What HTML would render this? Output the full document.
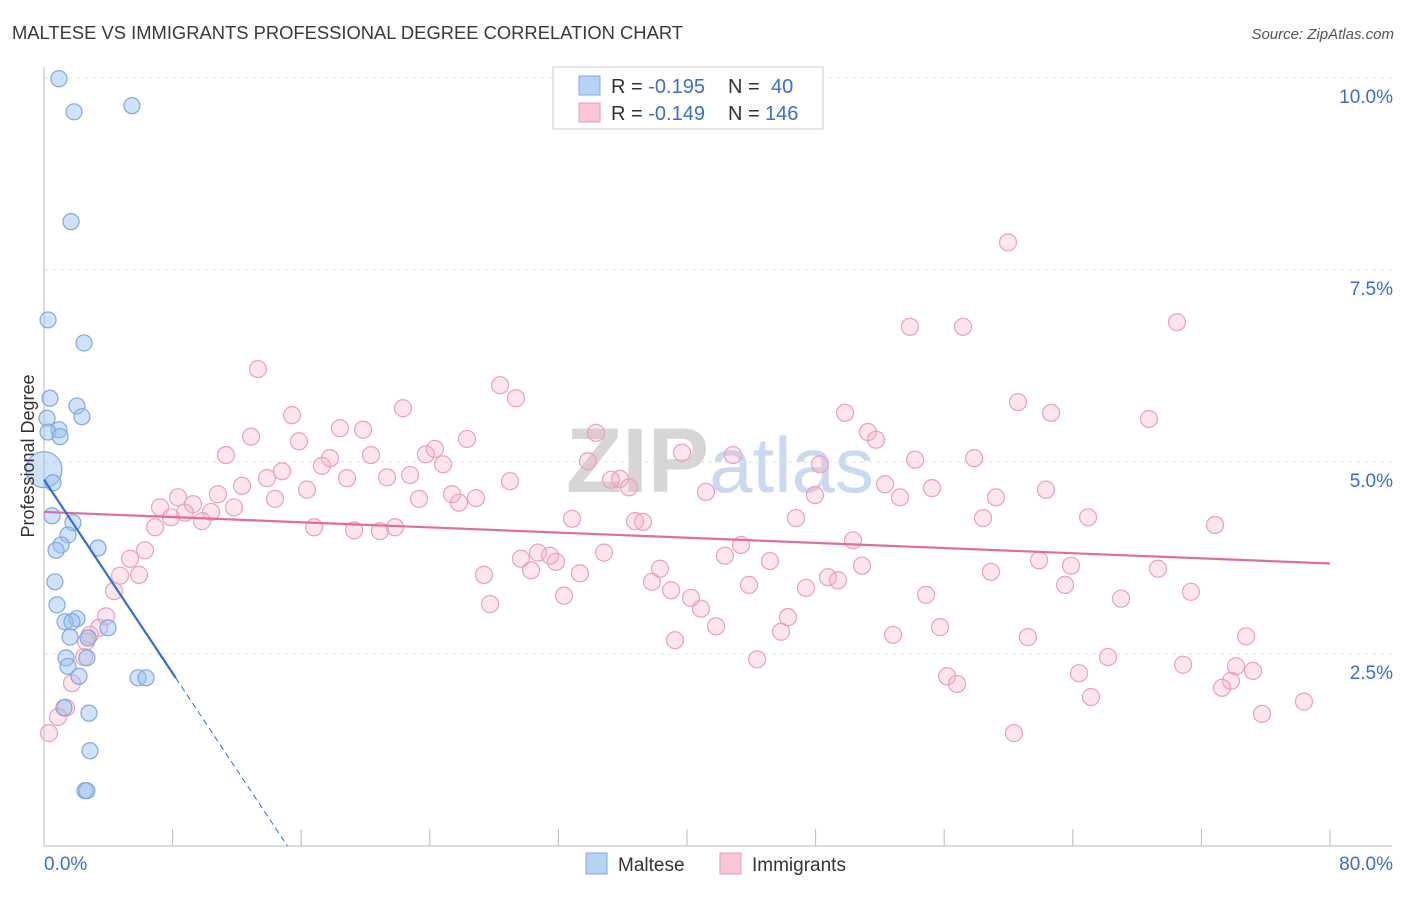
<!DOCTYPE html>
<html><head><meta charset="utf-8"><style>
body{margin:0;background:#fff;font-family:"Liberation Sans",sans-serif;}
svg text{font-family:"Liberation Sans",sans-serif;}
</style></head><body>
<svg id="c" width="1406" height="892" viewBox="0 0 1406 892">
<text x="12" y="39" font-size="18" fill="#3a3a3a" textLength="671" lengthAdjust="spacingAndGlyphs">MALTESE VS IMMIGRANTS PROFESSIONAL DEGREE CORRELATION CHART</text>
<text x="1394" y="39" font-size="15" fill="#555" font-style="italic" text-anchor="end">Source: ZipAtlas.com</text>
<text x="720" y="492" font-size="92" fill="#d6d6d6" text-anchor="middle" font-weight="bold" font-family="Liberation Serif">ZIP<tspan fill="#c9daf0" font-weight="normal" font-family="Liberation Sans" font-size="78">atlas</tspan></text>
<g id="grid"></g><g id="axes"></g><g id="pts"></g><g id="lines"></g>
<text x="34" y="456" font-size="18" fill="#333" text-anchor="middle" transform="rotate(-90 34 456)">Professional Degree</text>
<g>
<rect x="553" y="67" width="270" height="62" fill="#fff" stroke="#ccc"/>
<rect x="579" y="76" width="21" height="19" fill="#b8d2f4" stroke="#7fa8e0"/>
<rect x="579" y="103" width="21" height="19" fill="#f9c6d6" stroke="#e89ab5"/>
<text x="611" y="93" font-size="20" fill="#333">R = <tspan fill="#3a6fd0">-0.195</tspan></text>
<text x="728" y="93" font-size="20" fill="#333">N = </text>
<text x="771" y="93" font-size="20" fill="#3a6fd0">40</text>
<text x="611" y="120" font-size="20" fill="#333">R = <tspan fill="#3a6fd0">-0.149</tspan></text>
<text x="728" y="120" font-size="20" fill="#333">N = </text>
<text x="765" y="120" font-size="20" fill="#3a6fd0">146</text>
</g>
<g>
<rect x="586" y="853" width="21" height="21" fill="#b8d2f4" stroke="#7fa8e0"/>
<text x="618" y="871" font-size="19" fill="#333">Maltese</text>
<rect x="720" y="853" width="21" height="21" fill="#f9c6d6" stroke="#e89ab5"/>
<text x="752" y="871" font-size="19" fill="#333">Immigrants</text>
</g>
</svg>
<script>
const yTicks=[2.5,5,7.5,10];
const yTickLabels=["2.5%","5.0%","7.5%","10.0%"];
const xTickVals=[0,8,16,24,32,40,48,56,64,72,80];
const malteseX=[0.93,1.87,5.47,1.68,0.25,2.49,0.37,2.05,2.36,0.19,0.93,0.25,1.0,0,0.56,0.5,1.8,1.49,1.06,0.75,3.36,0.68,0.81,2.05,1.31,1.74,3.98,1.62,2.74,1.37,2.67,1.49,2.18,5.85,6.35,1.24,2.8,2.86,2.55,2.67];
const malteseY=[9.99,9.56,9.64,8.13,6.85,6.55,5.83,5.73,5.59,5.57,5.42,5.39,5.33,4.90,4.73,4.30,4.21,4.05,3.92,3.85,3.88,3.44,3.14,2.96,2.92,2.92,2.84,2.72,2.71,2.45,2.45,2.34,2.21,2.19,2.19,1.80,1.73,1.24,0.72,0.72];
const immX=[59.97,53.87,57.17,70.48,13.31,28.37,29.36,60.59,62.65,22.33,15.43,49.83,68.74,18.41,19.85,12.88,15.86,26.31,34.34,51.26,51.76,24.32,23.76,11.32,17.79,20.34,24.82,17.29,33.84,39.69,42.86,57.86,54.19,48.27,14.81,13.87,22.77,21.34,18.85,35.83,35.27,36.39,28.99,12.32,10.82,16.36,52.32,55.24,62.33,41.18,47.96,25.38,26.87,25.82,23.33,14.37,8.34,7.22,9.27,11.82,10.39,8.77,7.90,9.83,59.22,53.25,64.95,32.85,46.78,37.26,36.77,16.80,19.29,20.90,21.84,58.42,72.85,6.91,50.33,43.36,6.28,5.35,34.84,42.36,45.16,29.67,30.73,31.48,30.30,31.85,61.90,63.89,4.73,5.91,27.37,33.34,38.32,50.89,58.91,69.30,4.35,37.82,39.01,43.86,47.40,48.77,49.39,63.52,54.87,71.35,67.00,32.35,27.75,40.25,40.87,46.28,3.86,3.42,41.81,55.74,45.85,52.82,39.25,61.21,74.78,2.86,2.61,2.49,44.36,66.19,70.86,74.15,75.21,64.39,56.18,56.80,73.84,73.28,65.13,1.74,1.37,0.87,0.31,75.77,78.38,60.34];
const immY=[7.86,6.76,6.76,6.82,6.21,6.00,5.83,5.78,5.64,5.70,5.61,5.64,5.56,5.44,5.42,5.33,5.27,5.30,5.38,5.39,5.29,5.17,5.10,5.09,5.05,5.09,4.97,4.95,5.01,5.12,5.09,5.05,5.03,4.97,4.88,4.79,4.83,4.80,4.79,4.78,4.77,4.67,4.75,4.69,4.58,4.64,4.71,4.66,4.64,4.61,4.57,4.58,4.53,4.47,4.52,4.52,4.54,4.41,4.45,4.41,4.35,4.34,4.28,4.23,4.54,4.54,4.28,4.26,4.27,4.22,4.23,4.15,4.11,4.10,4.15,4.27,4.18,4.15,3.98,3.92,3.85,3.74,3.82,3.78,3.71,3.74,3.82,3.78,3.59,3.70,3.72,3.65,3.52,3.53,3.53,3.55,3.61,3.65,3.57,3.61,3.32,3.44,3.33,3.40,3.36,3.50,3.46,3.40,3.27,3.31,3.22,3.26,3.15,3.23,3.09,2.98,2.99,2.84,2.86,2.85,2.79,2.75,2.68,2.72,2.73,2.75,2.66,2.46,2.43,2.46,2.36,2.34,2.28,2.25,2.21,2.11,2.15,2.06,1.94,2.12,1.80,1.68,1.47,1.72,1.88,1.47];
const malteseFit=[4.77,-0.315];
const immFit=[4.35,-0.0084];
const NS="http://www.w3.org/2000/svg";
const X=v=>44+v*(1286/80), Y=v=>846-v*76.8;
function mk(p,t,a){const e=document.createElementNS(NS,t);for(const k in a)e.setAttribute(k,a[k]);document.getElementById(p).appendChild(e);return e;}
yTicks.forEach((t,i)=>{
 const g=mk('grid','line',{x1:44,x2:1392,y1:Y(t),y2:Y(t),stroke:'#e2e2e2','stroke-dasharray':'4 4'});
 
 
 const l=mk('axes','text',{x:1393,y:Y(t)+25,'font-size':19,fill:'#3a6fd0','text-anchor':'end'});
 l.textContent=yTickLabels[i];
 
 
});
const ax=mk('axes','line',{x1:44,x2:44,y1:67,y2:846,stroke:'#bbb'});


const bx=mk('axes','line',{x1:44,x2:1392,y1:846,y2:846,stroke:'#bbb'});


xTickVals.forEach(v=>{const t=mk('axes','line',{x1:X(v),x2:X(v),y1:829,y2:846,stroke:'#bbb'});
 
 });
const xl0=mk('axes','text',{x:44,y:870,'font-size':19,fill:'#3a6fd0'});xl0.textContent='0.0%';


const xl1=mk('axes','text',{x:1393,y:870,'font-size':19,fill:'#3a6fd0','text-anchor':'end'});xl1.textContent='80.0%';


immX.forEach((x,i)=>{const c=mk('pts','circle',{cx:X(x),cy:Y(immY[i]),r:8.5,fill:'rgba(245,170,195,0.3)',stroke:'#eba0bb','stroke-width':1.2});
 
 });
malteseX.forEach((x,i)=>{const c=mk('pts','circle',{cx:X(x),cy:Y(malteseY[i]),r:i==13?18:8,fill:'rgba(150,190,240,0.45)',stroke:'#7fa8e0','stroke-width':1.2});
 
 });
const il=mk('lines','line',{x1:X(0),y1:Y(immFit[0]),x2:X(80),y2:Y(immFit[0]+immFit[1]*80),stroke:'#e46b9a','stroke-width':2.2});


const xEnd=-malteseFit[0]/malteseFit[1];
const ml=mk('lines','line',{x1:X(0),y1:Y(malteseFit[0]),x2:X(8.2),y2:Y(malteseFit[0]+malteseFit[1]*8.2),stroke:'#2f6fd8','stroke-width':2.2});


const md=mk('lines','line',{x1:X(8.2),y1:Y(malteseFit[0]+malteseFit[1]*8.2),x2:X(xEnd),y2:Y(0),stroke:'#2f6fd8','stroke-width':1,'stroke-dasharray':'6 4'});


</script>
</body></html>
